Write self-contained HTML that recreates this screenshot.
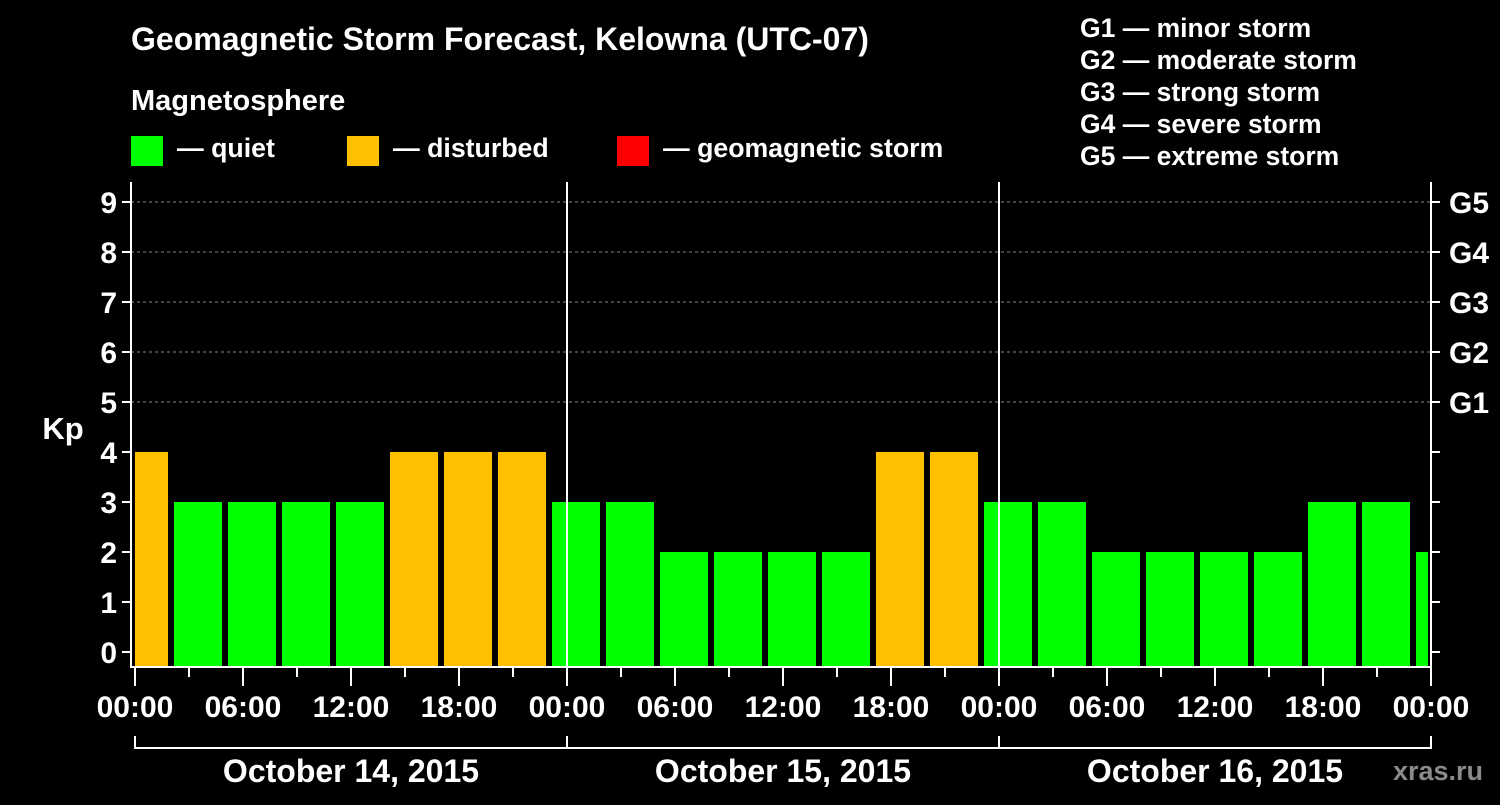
<!DOCTYPE html>
<html><head><meta charset="utf-8"><style>
body{margin:0;background:#000;width:1500px;height:800px;overflow:hidden}
svg text{font-family:"Liberation Sans",sans-serif;font-weight:bold;fill:#fff}
</style></head><body>
<svg id="c" width="1500" height="800">
<text x="131" y="50" font-size="32">Geomagnetic Storm Forecast, Kelowna (UTC-07)</text>
<text x="131" y="110" font-size="29">Magnetosphere</text>
<rect x="131" y="136" width="32" height="30" fill="#00ff00"/>
<text x="177" y="157" font-size="26.7">— quiet</text>
<rect x="347" y="136" width="32" height="30" fill="#ffc000"/>
<text x="393" y="157" font-size="26.7">— disturbed</text>
<rect x="617" y="136" width="32" height="30" fill="#ff0000"/>
<text x="663" y="157" font-size="26.7">— geomagnetic storm</text>
<g font-size="26.5">
<text x="1080" y="37">G1 — minor storm</text>
<text x="1080" y="69">G2 — moderate storm</text>
<text x="1080" y="101">G3 — strong storm</text>
<text x="1080" y="133">G4 — severe storm</text>
<text x="1080" y="165">G5 — extreme storm</text>
</g>
<text x="63" y="439" font-size="31" text-anchor="middle">Kp</text>
<g id="plot"></g>
<text x="1438" y="780" font-size="27" style="fill:#8a8a8a" text-anchor="middle">xras.ru</text>
</svg>
<script>
const kpValues=[4,3,3,3,3,4,4,4,3,3,2,2,2,2,4,4,3,3,2,2,2,2,3,3,2];
const kpTicks=[0,1,2,3,4,5,6,7,8,9];
const gLabels=["G1","G2","G3","G4","G5"];
const timeLabels=["00:00","06:00","12:00","18:00","00:00","06:00","12:00","18:00","00:00","06:00","12:00","18:00","00:00"];
const dayLabels=["October 14, 2015","October 15, 2015","October 16, 2015"];
const firstBarHour=-1;
const NS="http://www.w3.org/2000/svg";
const X0=135,HPX=18,L=131,R=1431,T=182,B=667;
const y=v=>652-50*v, x=h=>X0+h*HPX;
const g=document.getElementById('plot');
function el(t,a,p){const e=document.createElementNS(NS,t);for(const k in a)e.setAttribute(k,a[k]);(p||g).appendChild(e);return e;}
for(let v=5;v<=9;v++){const e=el('line',{x1:L,x2:R,y1:y(v),y2:y(v),stroke:'#888','stroke-dasharray':'3,3','stroke-width':1});

}
const cp=el('clipPath',{id:'cp'});el('rect',{x:L+4,y:T,width:R-L-7,height:B-T},cp);
kpValues.forEach((v,i)=>{const h0=firstBarHour+3*i;
const col=v>=5?'#ff0000':(v>=4?'#ffc000':'#00ff00');
const r=el('rect',{x:x(h0)+3,y:y(v),width:3*HPX-6,height:B-y(v),fill:col,'clip-path':'url(#cp)'});

});
[1,2].forEach(d=>{const e=el('line',{x1:x(24*d),x2:x(24*d),y1:T,y2:B,stroke:'#fff','stroke-width':2});

});
const f=el('path',{d:`M${L},${T}V${B}H${R}V${T}`,fill:'none',stroke:'#fff','stroke-width':2});


kpTicks.forEach(v=>{el('line',{x1:122,x2:L,y1:y(v),y2:y(v),stroke:'#fff','stroke-width':2});
el('line',{x1:R,x2:R+9,y1:y(v),y2:y(v),stroke:'#fff','stroke-width':2});
const t=el('text',{x:117,y:y(v)+11,'font-size':30,'text-anchor':'end'});t.textContent=v;

});
gLabels.forEach((s,i)=>{const t=el('text',{x:1449,y:y(5+i)+11,'font-size':30});t.textContent=s;

});
for(let h=0;h<=72;h+=3){el('line',{x1:x(h),x2:x(h),y1:B,y2:h%6?677:686,stroke:'#fff','stroke-width':2});}
timeLabels.forEach((s,i)=>{const t=el('text',{x:x(6*i),y:717,'font-size':30,'text-anchor':'middle'});t.textContent=s;

});
el('line',{x1:x(0),x2:x(72),y1:748,y2:748,stroke:'#fff','stroke-width':2});
for(let d=0;d<=3;d++)el('line',{x1:x(24*d),x2:x(24*d),y1:736,y2:749,stroke:'#fff','stroke-width':2});
dayLabels.forEach((s,i)=>{const t=el('text',{x:x(24*i+12),y:782,'font-size':32,'text-anchor':'middle'});t.textContent=s;

});
</script>
</body></html>
